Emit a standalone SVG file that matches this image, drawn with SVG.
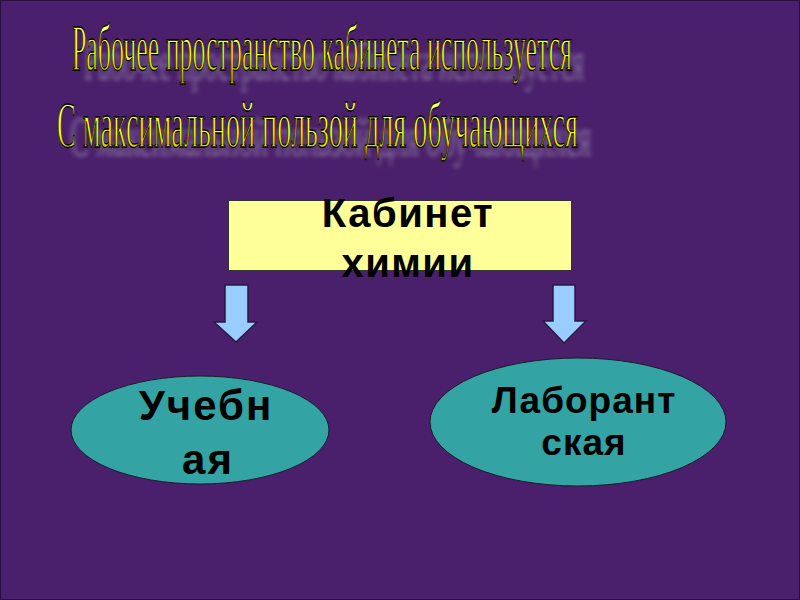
<svg xmlns="http://www.w3.org/2000/svg" width="800" height="600" viewBox="0 0 800 600">
  <defs>
    <linearGradient id="wa" x1="0" y1="-16" x2="0" y2="4" gradientUnits="userSpaceOnUse">
      <stop offset="0" stop-color="#FFFF66"/>
      <stop offset="0.55" stop-color="#FFFF00"/>
      <stop offset="1" stop-color="#B0B000"/>
    </linearGradient>
    <filter id="blur" x="-5%" y="-40%" width="110%" height="180%">
      <feGaussianBlur stdDeviation="2.5 1"/>
    </filter>
  </defs>
  <style>
    .title { font-family: "Liberation Serif", "DejaVu Serif", serif; font-size: 25px; }
    .wa { fill: url(#wa); stroke: #000; stroke-width: 0.5; }
    .sh { fill: #B8B8C8; opacity: 0.55; filter: url(#blur); }
    .box { fill: #FFFF99; stroke: #333; stroke-width: 1; }
    .ell { fill: #33A3A3; stroke: #1C1C2A; stroke-width: 1; }
    .arrow { fill: #99CCFF; stroke: #2A1A40; stroke-width: 1.5; }
    .lbl { font-family: "Liberation Sans", Arial, sans-serif; font-weight: bold; fill: #000; text-anchor: middle; }
  </style>
  <rect x="0.5" y="0.5" width="799" height="599" fill="#4A1F6B" stroke="#2A0F40" stroke-width="1"/>

  <g id="title">
    <text class="title sh" transform="matrix(1 0 0 2.3 84 80)" textLength="500" lengthAdjust="spacingAndGlyphs">Рабочее пространство кабинета используется</text>
    <text class="title sh" transform="matrix(1 0 0 2.3 70 156)" textLength="521" lengthAdjust="spacingAndGlyphs">С максимальной пользой для обучающихся</text>
    <text class="title wa" transform="matrix(1 0 0 2.6 72 70)" textLength="500" lengthAdjust="spacingAndGlyphs">Рабочее пространство кабинета используется</text>
    <text class="title wa" transform="matrix(1 0 0 2.6 57 147)" textLength="521" lengthAdjust="spacingAndGlyphs">С максимальной пользой для обучающихся</text>
  </g>

  <g id="node-cabinet">
    <rect class="box" x="228.5" y="200.5" width="343" height="70"/>
    <text class="lbl" x="408" y="227" font-size="40" letter-spacing="1.5">Кабинет</text>
    <text class="lbl" x="408" y="277" font-size="40" letter-spacing="1.5">химии</text>
  </g>

  <g id="connectors">
    <polygon class="arrow" points="225,285 248,285 248,322 257,322 236,342 214,322 225,322"/>
    <polygon class="arrow" points="553,285 575,285 575,321 586,321 564,343 543,321 553,321"/>
  </g>

  <g id="node-uchebnaya">
    <ellipse class="ell" cx="200" cy="430" rx="129" ry="54"/>
    <text class="lbl" x="206" y="420" font-size="42" letter-spacing="2">Учебн</text>
    <text class="lbl" x="208" y="474" font-size="42" letter-spacing="2">ая</text>
  </g>

  <g id="node-laborantskaya">
    <ellipse class="ell" cx="578" cy="422" rx="148" ry="64"/>
    <text class="lbl" x="584" y="413" font-size="37" letter-spacing="1">Лаборант</text>
    <text class="lbl" x="584" y="455" font-size="37" letter-spacing="1">ская</text>
  </g>
</svg>
